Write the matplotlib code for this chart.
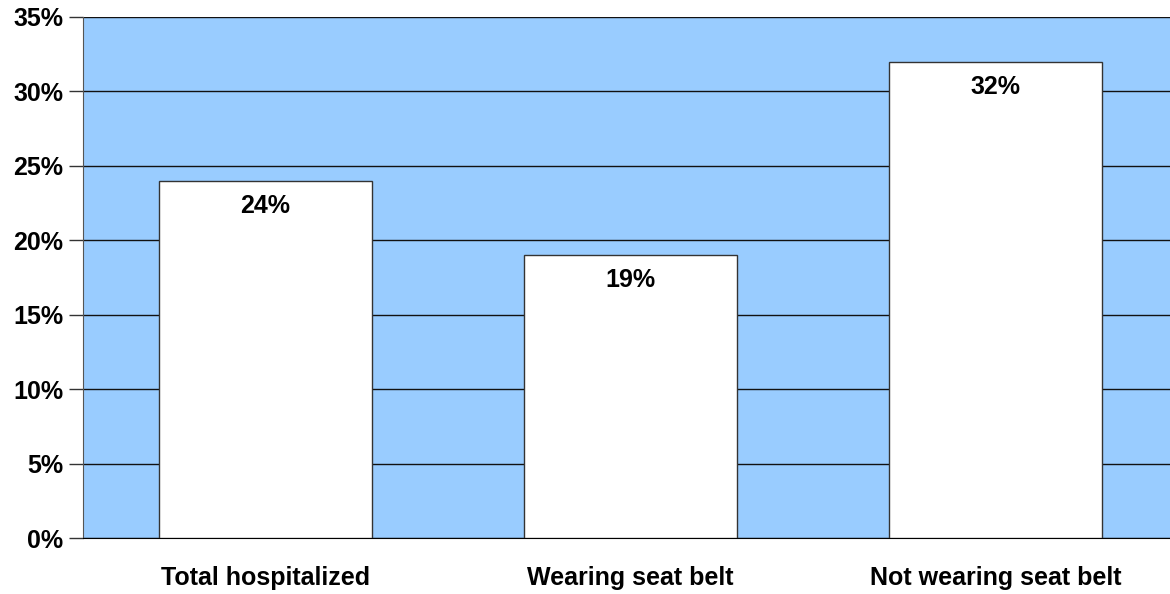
import matplotlib.pyplot as plt
from matplotlib.ticker import FuncFormatter

plt.rcParams["font.family"] = ["Liberation Sans", "DejaVu Sans"]

categories = ["Total hospitalized", "Wearing seat belt", "Not wearing seat belt"]
values = [24, 19, 32]
yticks = [0, 5, 10, 15, 20, 25, 30, 35]

fig = plt.figure(figsize=(11.7, 5.94), dpi=100)
ax = fig.add_axes([83 / 1170, 1 - 538 / 594, 1087 / 1170, 521 / 594])
ax.set_facecolor("#99CCFF")

x = list(range(len(categories)))
bars = ax.bar(x, values, width=0.586, color="white", edgecolor="#333333",
              linewidth=1, zorder=3)

for rect, v in zip(bars, values):
    ax.annotate(f"{v}%", (rect.get_x() + rect.get_width() / 2, v),
                xytext=(0, -18), textcoords="offset points",
                ha="center", va="center", fontsize=18, fontweight="bold", zorder=4)

ax.set_xlim(-0.5, 2.478)
ax.set_ylim(0, 35)
ax.set_yticks(yticks)
ax.yaxis.set_major_formatter(FuncFormatter(lambda v, p: f"{v:.0f}%"))
ax.grid(axis="y", color="#111111", linewidth=1, zorder=1)
ax.set_axisbelow(True)

ax.set_xticks(x)
ax.set_xticklabels(categories, fontsize=18, fontweight="bold")
ax.tick_params(axis="x", length=0, pad=20)
ax.tick_params(axis="y", length=10, width=1, labelsize=18, pad=4, color="#333333")
for lbl in ax.get_yticklabels():
    lbl.set_fontweight("bold")

ax.spines["top"].set_visible(False)
ax.spines["right"].set_visible(False)
ax.spines["left"].set_color("#555555")
ax.spines["bottom"].set_color("black")

fig.savefig("out.png", dpi=100, facecolor="white")
